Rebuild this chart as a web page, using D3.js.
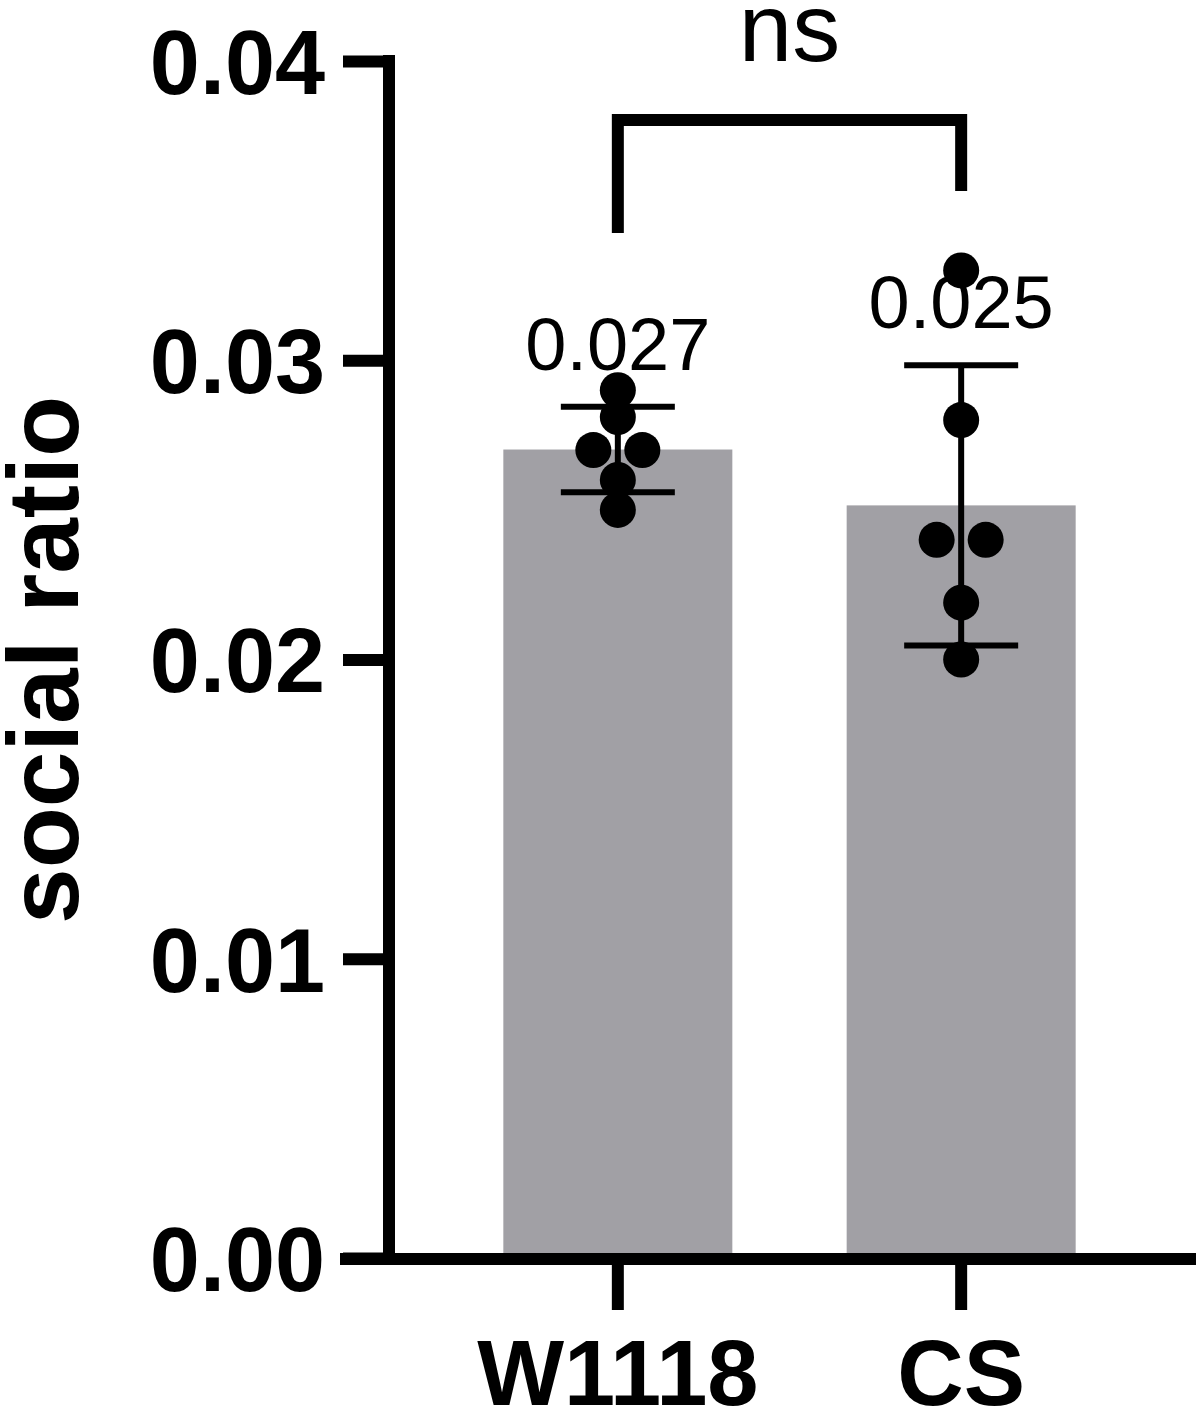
<!DOCTYPE html>
<html>
<head>
<meta charset="utf-8">
<script src="https://cdn.jsdelivr.net/npm/d3@7"></script>
<style>
  body { margin: 0; background: #fff; }
  svg { display: block; }
  text { font-family: "Liberation Sans", Arial, Helvetica, sans-serif; fill: #000; }
</style>
</head>
<body>
<div id="chart"></div>
<script>
// data
var groups = ["W1118", "CS"];
var w1118 = [0.0290, 0.0281, 0.0270, 0.0270, 0.0260, 0.0250];
var cs = [0.0330, 0.0280, 0.0240, 0.0240, 0.0219, 0.0200];
var yTicks = [0, 0.01, 0.02, 0.03, 0.04];
var sigLabel = "ns";
var yTitle = "social ratio";

var series = [w1118, cs];

var W = 1200, H = 1408;
var axisX = 389, baseY = 1258, topY = 61;

var svg = d3.select("#chart").append("svg").attr("width", W).attr("height", H);

var y = d3.scaleLinear().domain([0, 0.04]).range([baseY, topY]);
var x = d3.scaleBand().domain(groups).range([axisX, 1190]).paddingInner(0.333).paddingOuter(0.333);

function cx(g) { return x(g) + x.bandwidth() / 2; }

var stats = groups.map(function(g, i) {
  var vals = series[i];
  return { group: g, vals: vals, mean: d3.mean(vals), sd: d3.deviation(vals) };
});

// bars
svg.selectAll("rect.bar").data(stats).enter().append("rect").classed("bar", true)
  .attr("x", function(d) { return x(d.group); })
  .attr("width", x.bandwidth())
  .attr("y", function(d) { return y(d.mean); })
  .attr("height", function(d) { return baseY - 5 - y(d.mean); })
  .attr("fill", "#a1a0a5");

// error bars (mean +/- SD)
var eb = svg.selectAll("g.err").data(stats).enter().append("g").classed("err", true);
eb.append("line")
  .attr("x1", function(d) { return cx(d.group); }).attr("x2", function(d) { return cx(d.group); })
  .attr("y1", function(d) { return y(d.mean - d.sd); }).attr("y2", function(d) { return y(d.mean + d.sd); })
  .attr("stroke", "#000").attr("stroke-width", 6);
[1, -1].forEach(function(s) {
  eb.append("line")
    .attr("x1", function(d) { return cx(d.group) - 57; }).attr("x2", function(d) { return cx(d.group) + 57; })
    .attr("y1", function(d) { return y(d.mean + s * d.sd); }).attr("y2", function(d) { return y(d.mean + s * d.sd); })
    .attr("stroke", "#000").attr("stroke-width", 6);
});

// points, tied values spread sideways
var pts = [];
stats.forEach(function(d) {
  var counts = d3.rollup(d.vals, function(v) { return v.length; }, function(v) { return v; });
  var seen = new Map();
  d.vals.forEach(function(v) {
    var n = counts.get(v), k = seen.get(v) || 0;
    seen.set(v, k + 1);
    pts.push({ group: d.group, value: v, off: (k - (n - 1) / 2) * 49 });
  });
});
svg.selectAll("circle.pt").data(pts).enter().append("circle").classed("pt", true)
  .attr("cx", function(p) { return cx(p.group) + p.off; })
  .attr("cy", function(p) { return y(p.value); })
  .attr("r", 18).attr("fill", "#000");

// mean labels
svg.selectAll("text.mean").data(stats).enter().append("text").classed("mean", true)
  .attr("x", function(d) { return cx(d.group); })
  .attr("y", function(d) { return y(d.mean + d.sd) - 37; })
  .attr("text-anchor", "middle").attr("font-size", 74)
  .text(function(d) { return d.mean.toFixed(3); });

// significance bracket
var bx1 = cx(groups[0]), bx2 = cx(groups[1]);
svg.append("path")
  .attr("d", "M" + bx1 + "," + 233 + "V" + 120 + "H" + bx2 + "V" + 191)
  .attr("fill", "none").attr("stroke", "#000").attr("stroke-width", 12)
  .attr("stroke-linejoin", "miter").attr("stroke-linecap", "butt");
svg.append("text").attr("x", (bx1 + bx2) / 2 - 0).attr("y", 61)
  .attr("text-anchor", "middle").attr("font-size", 96).text(sigLabel);

// y axis
var yAxis = svg.append("g").attr("transform", "translate(" + axisX + ",0)")
  .call(d3.axisLeft(y).tickValues(yTicks).tickFormat(d3.format(".2f")).tickSize(46).tickSizeOuter(0).tickPadding(18));
yAxis.select(".domain").remove();
yAxis.selectAll(".tick line").attr("stroke", "#000").attr("stroke-width", 12);
yAxis.selectAll(".tick text").attr("font-size", 90).attr("font-weight", "bold")
  .attr("font-family", "'Liberation Sans', Arial, sans-serif").attr("dy", "0.36em");
svg.append("line").attr("x1", axisX).attr("x2", axisX).attr("y1", 55).attr("y2", baseY + 6)
  .attr("stroke", "#000").attr("stroke-width", 12);

// x axis
var xAxis = svg.append("g").attr("transform", "translate(0," + (baseY + 1) + ")")
  .call(d3.axisBottom(x).tickSize(51).tickSizeOuter(0).tickPadding(0));
xAxis.select(".domain").remove();
xAxis.selectAll(".tick line").attr("stroke", "#000").attr("stroke-width", 12);
xAxis.selectAll(".tick text").attr("font-size", 92).attr("font-weight", "bold")
  .attr("font-family", "'Liberation Sans', Arial, sans-serif")
  .attr("y", 146).attr("dy", 0);
svg.append("line").attr("x1", 340).attr("x2", 1196).attr("y1", baseY + 1).attr("y2", baseY + 1)
  .attr("stroke", "#000").attr("stroke-width", 12);

// y title
svg.append("text").attr("transform", "translate(78,660) rotate(-90)")
  .attr("text-anchor", "middle").attr("font-size", 100).attr("font-weight", "bold")
  .text(yTitle);
</script>
</body>
</html>
